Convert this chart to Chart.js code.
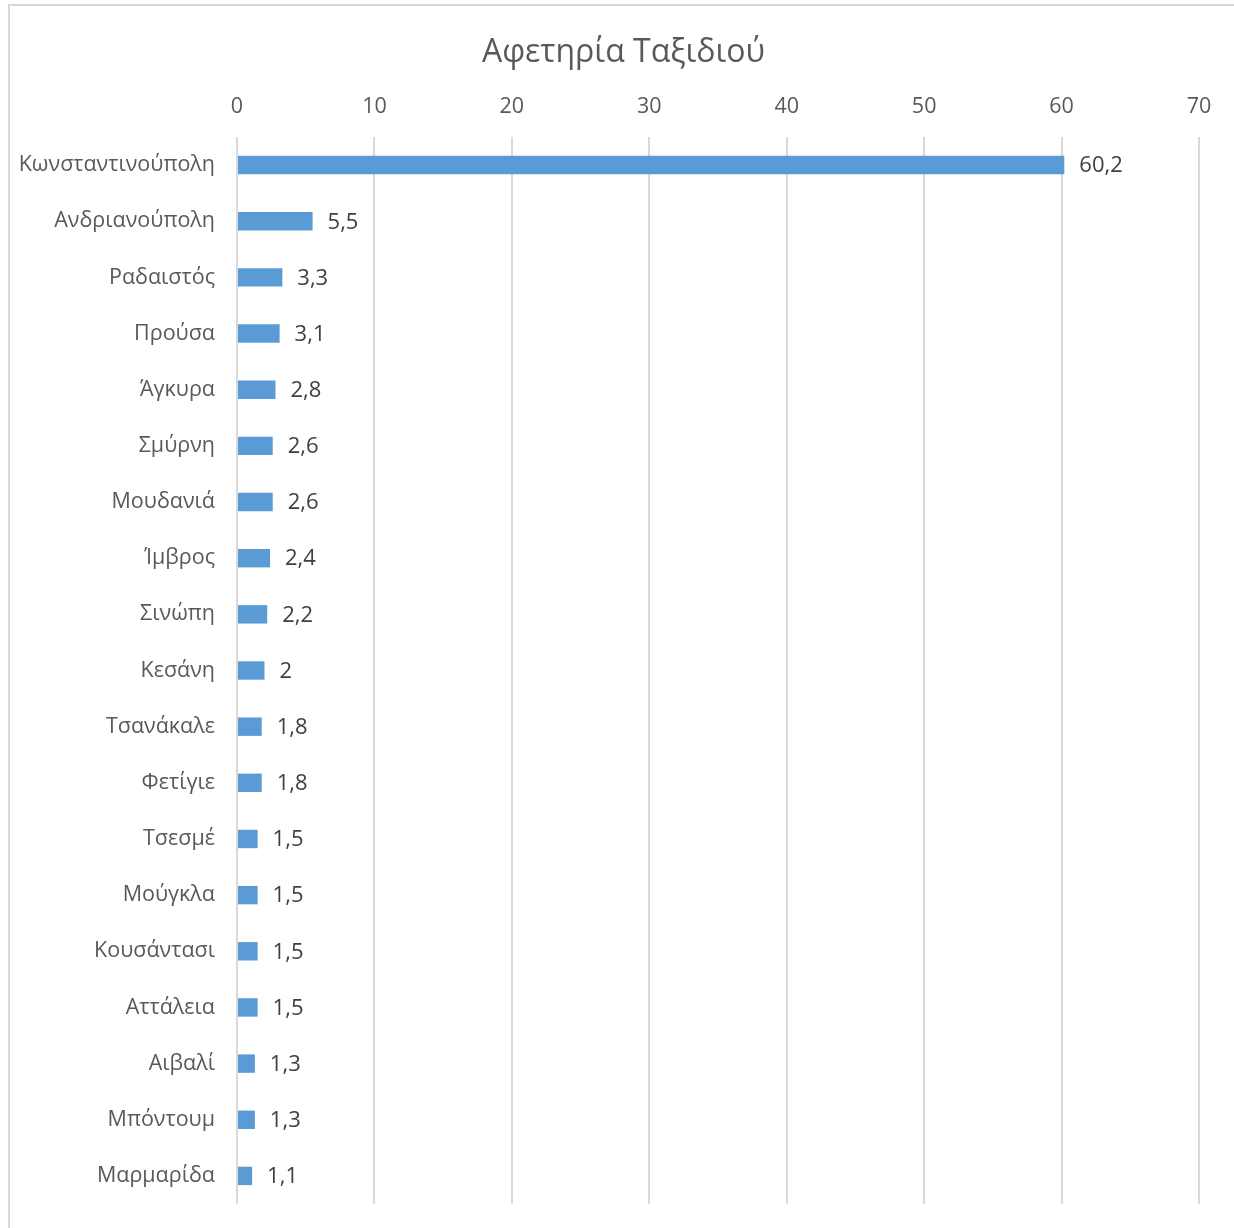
<!DOCTYPE html>
<html><head><meta charset="utf-8">
<script src="https://cdn.jsdelivr.net/npm/chart.js@4"></script>
<style>
html,body{margin:0;padding:0;background:#fff;}
#wrap{position:absolute;left:0;top:0;width:1234px;height:1228px;}
#frame{position:absolute;left:8px;top:4px;width:1240px;height:1240px;border-left:2px solid #d9d9d9;border-top:2px solid #d9d9d9;box-sizing:border-box;pointer-events:none;}
</style></head>
<body>
<div id="wrap"><canvas id="c" width="1234" height="1228"></canvas></div>
<div id="frame"></div>
<script>
const categories = ["Κωνσταντινούπολη","Ανδριανούπολη","Ραδαιστός","Προύσα","Άγκυρα","Σμύρνη","Μουδανιά","Ίμβρος","Σινώπη","Κεσάνη","Τσανάκαλε","Φετίγιε","Τσεσμέ","Μούγκλα","Κουσάντασι","Αττάλεια","Αιβαλί","Μπόντουμ","Μαρμαρίδα"];
const values = [60.2,5.5,3.3,3.1,2.8,2.6,2.6,2.4,2.2,2,1.8,1.8,1.5,1.5,1.5,1.5,1.3,1.3,1.1];
const xTicks = [0,10,20,30,40,50,60,70];
const titleText = "Αφετηρία Ταξιδιού";

const FONT = "'Open Sans', 'Noto Sans', sans-serif";
const TITLE_SIZE = 32, TITLE_PAD = 34;

const labelPlugin = {
  id: 'barLabels',
  afterLayout(chart) {
    // shift the title's centring box to match the original layout
    if (chart.titleBlock) chart.titleBlock.left = 48;
  },
  afterDatasetsDraw(chart) {
    const ctx = chart.ctx;
    const meta = chart.getDatasetMeta(0);
    ctx.save();
    ctx.font = "22px " + FONT;
    ctx.fillStyle = "#404040";
    ctx.textAlign = "left";
    ctx.textBaseline = "middle";
    meta.data.forEach((bar, i) => {
      const txt = String(values[i]).replace('.', ',');
      ctx.fillText(txt, bar.x + 15, bar.y + 1);
    });
    ctx.restore();
  }
};

function zeroPad(s) { s.paddingTop = 0; s.paddingBottom = 0; s.paddingLeft = 0; s.paddingRight = 0; }

new Chart(document.getElementById('c'), {
  type: 'bar',
  data: {
    labels: categories,
    datasets: [{
      data: values,
      backgroundColor: '#5b9bd5',
      borderWidth: 0,
      barPercentage: 0.82,
      categoryPercentage: 0.4
    }]
  },
  options: {
    indexAxis: 'y',
    responsive: false,
    animation: false,
    layout: { padding: { left: 0, right: 35, top: 0, bottom: 24 } },
    plugins: {
      legend: { display: false },
      tooltip: { enabled: false },
      title: {
        display: true,
        text: titleText,
        color: '#595959',
        font: { family: FONT, size: TITLE_SIZE, weight: 'normal' },
        padding: { top: TITLE_PAD, bottom: 0 }
      }
    },
    scales: {
      x: {
        position: 'top',
        min: 0, max: 70,
        afterBuildTicks(s) { s.ticks = xTicks.map(v => ({ value: v })); },
        afterFit(s) { s.height = 137 - (TITLE_PAD + TITLE_SIZE * 1.2); zeroPad(s); },
        grid: { color: '#d9d9d9', lineWidth: 2, drawTicks: false },
        border: { display: false },
        ticks: { color: '#595959', font: { family: FONT, size: 21.5 }, padding: 17, maxRotation: 0 }
      },
      y: {
        afterFit(s) { s.width = 237; zeroPad(s); },
        grid: { display: false, drawTicks: false },
        border: { display: false },
        ticks: { color: '#595959', font: { family: FONT, size: 21.5 }, padding: 22 }
      }
    }
  },
  plugins: [labelPlugin]
});
</script>
</body></html>
